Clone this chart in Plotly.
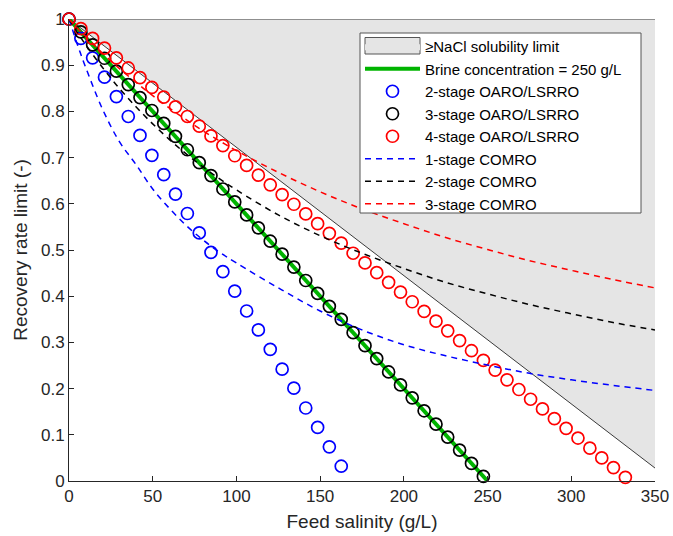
import plotly.graph_objects as go

# ---------------- data ----------------
# solubility-limit region (feed salinity, recovery)
sol_x = [350, 0, 350]
sol_y = [0.028, 1.0, 1.0]

# brine concentration = 250 g/L line
brine_x = [0, 250]
brine_y = [1.0, 0.0]

# OARO/LSRRO feed salinities (g/L)
oaro_x = [0, 7.1, 14.1, 21.2, 28.3, 35.4, 42.4, 49.5, 56.6, 63.6, 70.7, 77.8,
          84.8, 91.9, 99.0, 106.1, 113.1, 120.2, 127.3, 134.3, 141.4, 148.5,
          155.5, 162.6, 169.7, 176.8, 183.8, 190.9, 198.0, 205.0, 212.1, 219.2,
          226.2, 233.3, 240.4, 247.5, 254.5, 261.6, 268.7, 275.7, 282.8, 289.9,
          296.9, 304.0, 311.1, 318.2, 325.2, 332.3]

oaro2_y = [1.000, 0.958, 0.916, 0.874, 0.832, 0.789, 0.748, 0.705, 0.663, 0.621,
           0.579, 0.537, 0.495, 0.453, 0.411, 0.368, 0.327, 0.285, 0.242, 0.201,
           0.158, 0.116, 0.074, 0.032]

oaro3_y = [1.000, 0.972, 0.944, 0.915, 0.887, 0.858, 0.830, 0.802, 0.774, 0.746,
           0.717, 0.689, 0.661, 0.632, 0.604, 0.576, 0.548, 0.519, 0.491, 0.463,
           0.434, 0.406, 0.378, 0.350, 0.321, 0.293, 0.265, 0.236, 0.208, 0.180,
           0.152, 0.123, 0.095, 0.067, 0.038, 0.010]

oaro4_y = [1.000, 0.979, 0.958, 0.937, 0.916, 0.894, 0.873, 0.852, 0.831, 0.810,
           0.789, 0.768, 0.747, 0.726, 0.704, 0.683, 0.662, 0.641, 0.620, 0.599,
           0.578, 0.557, 0.536, 0.515, 0.493, 0.472, 0.451, 0.430, 0.409, 0.388,
           0.367, 0.346, 0.325, 0.304, 0.282, 0.261, 0.240, 0.219, 0.198, 0.177,
           0.156, 0.135, 0.114, 0.093, 0.071, 0.050, 0.029, 0.008]

# COMRO curves
comro_x = [0, 5, 10, 20, 30, 40, 50, 60, 70, 80, 90, 100, 125, 150, 175, 200,
           225, 250, 275, 300, 325, 350]
comro1_y = [1.0, 0.945, 0.895, 0.805, 0.735, 0.685, 0.632, 0.590, 0.553, 0.522,
            0.495, 0.472, 0.418, 0.368, 0.327, 0.295, 0.271, 0.251, 0.233, 0.219,
            0.207, 0.196]
comro2_y = [1.0, 0.971, 0.944, 0.895, 0.850, 0.810, 0.773, 0.739, 0.708, 0.680,
            0.654, 0.630, 0.576, 0.531, 0.493, 0.460, 0.430, 0.405, 0.382, 0.362,
            0.343, 0.327]
comro3_y = [1.0, 0.980, 0.962, 0.926, 0.893, 0.863, 0.834, 0.807, 0.782, 0.758,
            0.736, 0.715, 0.668, 0.626, 0.589, 0.557, 0.527, 0.501, 0.477, 0.456,
            0.436, 0.418]

x_ticks = [0, 50, 100, 150, 200, 250, 300, 350]
y_ticks = [0, 0.1, 0.2, 0.3, 0.4, 0.5, 0.6, 0.7, 0.8, 0.9, 1]

FONT = "Liberation Sans, Arial, sans-serif"
AX = "#262626"
W, H = 673, 536
ML, MR, MT, MB = 69, 18, 19, 55
PW, PH = W - ML - MR, H - MT - MB


def px_x(p):  # pixel -> paper x
    return (p - ML) / PW


def px_y(p):  # pixel -> paper y
    return (H - MB - p) / PH


fig = go.Figure()

# gray solubility region (legend entry) + its dark edge
fig.add_trace(go.Scatter(x=sol_x, y=sol_y, mode="lines", fill="toself",
                         fillcolor="#e5e5e5", line=dict(color="#e5e5e5", width=0),
                         name="\u2265NaCl solubility limit", hoverinfo="skip"))
fig.add_trace(go.Scatter(x=sol_x, y=sol_y, mode="lines", showlegend=False,
                         line=dict(color="#3a3a3a", width=1), hoverinfo="skip"))

fig.add_trace(go.Scatter(x=brine_x, y=brine_y, mode="lines",
                         line=dict(color="#00b400", width=4),
                         name="Brine concentration = 250 g/L"))

mk = dict(symbol="circle-open", size=12)
fig.add_trace(go.Scatter(x=oaro_x[:len(oaro2_y)], y=oaro2_y, mode="markers",
                         marker=dict(**mk, color="#0000ff", line=dict(width=1.7)),
                         name="2-stage OARO/LSRRO", cliponaxis=False))
fig.add_trace(go.Scatter(x=oaro_x[:len(oaro3_y)], y=oaro3_y, mode="markers",
                         marker=dict(**mk, color="#000000", line=dict(width=1.7)),
                         name="3-stage OARO/LSRRO", cliponaxis=False))
fig.add_trace(go.Scatter(x=oaro_x[:len(oaro4_y)], y=oaro4_y, mode="markers",
                         marker=dict(**mk, color="#ff0000", line=dict(width=1.7)),
                         name="4-stage OARO/LSRRO", cliponaxis=False))

dash = "6px,5px"
fig.add_trace(go.Scatter(x=comro_x, y=comro1_y, mode="lines", line_shape="spline",
                         line=dict(color="#0000ff", width=1.5, dash=dash),
                         name="1-stage COMRO"))
fig.add_trace(go.Scatter(x=comro_x, y=comro2_y, mode="lines", line_shape="spline",
                         line=dict(color="#000000", width=1.5, dash=dash),
                         name="2-stage COMRO"))
fig.add_trace(go.Scatter(x=comro_x, y=comro3_y, mode="lines", line_shape="spline",
                         line=dict(color="#ff0000", width=1.5, dash=dash),
                         name="3-stage COMRO"))

# legend frame (white box) and the patch swatch, under the transparent legend
shapes = [
    dict(type="rect", xref="paper", yref="paper", layer="above",
         x0=px_x(360), x1=px_x(641), y0=px_y(213), y1=px_y(33),
         fillcolor="white", line=dict(color="#555555", width=1)),
    dict(type="rect", xref="paper", yref="paper", layer="above",
         x0=px_x(365), x1=px_x(420), y0=px_y(54), y1=px_y(37.5),
         fillcolor="#e5e5e5", line=dict(color="#555555", width=1)),
]

fig.update_layout(
    width=W, height=H,
    margin=dict(l=ML, r=MR, t=MT, b=MB, autoexpand=False),
    paper_bgcolor="white", plot_bgcolor="white",
    font=dict(family=FONT, size=17, color=AX),
    showlegend=True,
    shapes=shapes,
    legend=dict(x=px_x(360), y=px_y(30), xanchor="left", yanchor="top",
                bgcolor="rgba(0,0,0,0)", borderwidth=0,
                font=dict(family=FONT, size=15, color="#000000"),
                itemwidth=55, tracegroupgap=0),
)
fig.update_xaxes(range=[0, 350], tickvals=x_ticks, ticks="inside", ticklen=5,
                 tickcolor=AX, showline=True, linecolor=AX, linewidth=1,
                 showgrid=False, zeroline=False, automargin=False,
                 tickfont=dict(size=17, color=AX),
                 title=dict(text="Feed salinity (g/L)", font=dict(size=19, color=AX),
                            standoff=9))
fig.update_yaxes(range=[0, 1], tickvals=y_ticks, ticks="inside", ticklen=5,
                 tickcolor=AX, showline=True, linecolor=AX, linewidth=1,
                 showgrid=False, zeroline=False, automargin=False,
                 tickfont=dict(size=17, color=AX),
                 title=dict(text="Recovery rate limit (-)", font=dict(size=19, color=AX),
                            standoff=8))

fig.write_html("out.html")
